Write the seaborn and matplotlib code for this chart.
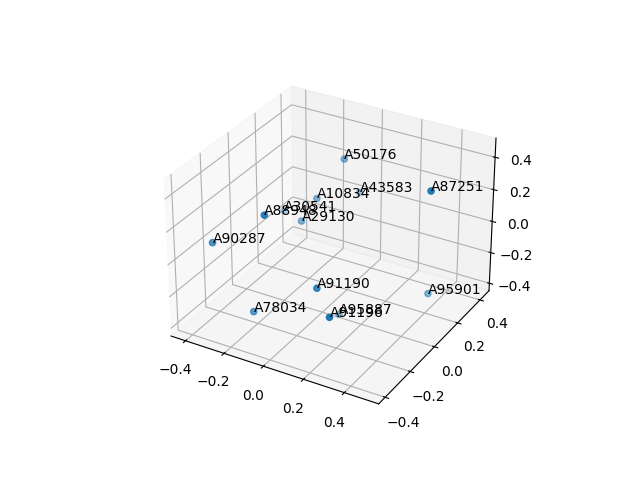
import matplotlib
matplotlib.use('Agg')
from matplotlib import pyplot as plt
import seaborn as sns

labels = ['A50176', 'A87251', 'A43583', 'A10834', 'A30541', 'A88948', 'A29130',
          'A90287', 'A91190', 'A95901', 'A78034', 'A95887', 'A91196']
xs = [-0.029, 0.536, -0.027, -0.090, -0.338, -0.053, -0.124, -0.307, 0.185, 0.439, -0.112, 0.080, 0.316]
ys = [0.220, -0.015, 0.344, 0.098, 0.210, -0.346, 0.029, -0.361, -0.323, 0.155, -0.353, 0.009, -0.431]
zs = [0.361, 0.507, 0.073, 0.175, -0.061, 0.382, 0.068, 0.137, 0.013, -0.275, -0.224, -0.438, -0.033]

color = sns.color_palette('tab10')[0]

fig = plt.figure(figsize=(6.4, 4.8), dpi=100)
ax = fig.add_subplot(projection='3d')
ax.scatter(xs, ys, zs, color=color)

# one label per point, starting at the point
for x, y, z, name in zip(xs, ys, zs, labels):
    ax.text(x, y, z, name)

ax.set_xlim(-0.476, 0.565)
ax.set_ylim(-0.45, 0.483)
ax.set_zlim(-0.449, 0.517)

fig.savefig('out.png', dpi=100)
